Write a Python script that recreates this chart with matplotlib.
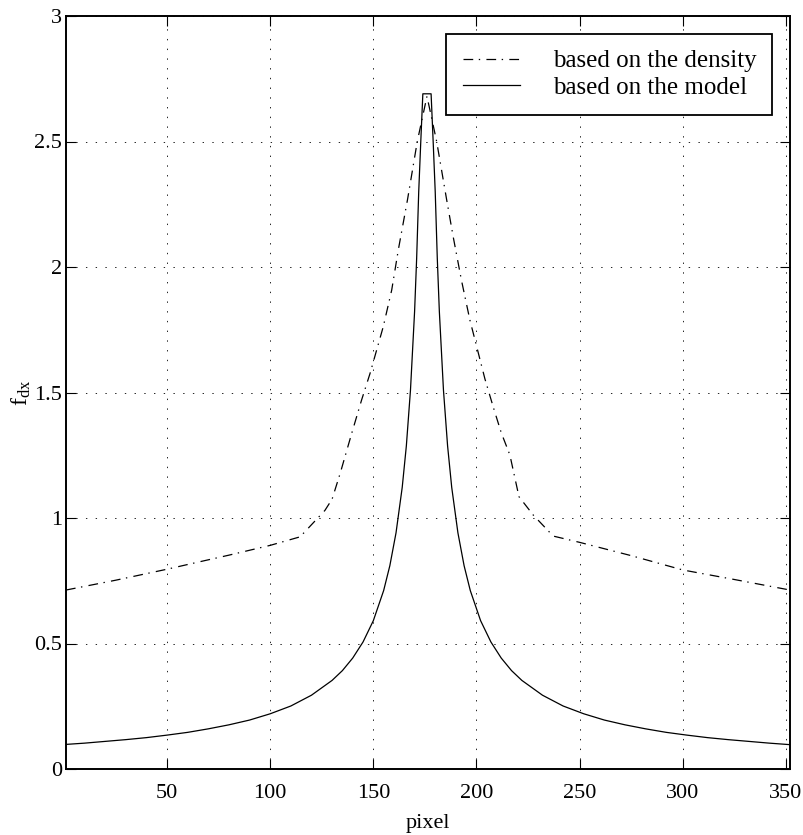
import matplotlib
matplotlib.use('Agg')
import matplotlib.pyplot as plt

plt.rcParams['font.family'] = ['Liberation Serif', 'DejaVu Serif']
plt.rcParams['mathtext.fontset'] = 'custom'
plt.rcParams['mathtext.rm'] = 'Liberation Serif'
plt.rcParams['lines.scale_dashes'] = False

# model curve
model_x = [1, 10, 20, 30, 40, 50, 60, 70, 80, 90, 100, 110, 120, 130, 135, 140,
           145, 150, 155, 158, 161, 164, 166, 168, 170, 171, 172, 173, 174, 178,
           179, 180, 181, 182, 184, 186, 188, 191, 194, 197, 202, 207, 212, 217,
           222, 232, 242, 252, 262, 272, 282, 292, 302, 312, 322, 332, 342, 352]
model_y = [0.098, 0.103, 0.110, 0.117, 0.125, 0.135, 0.146, 0.160, 0.176, 0.195,
           0.220, 0.251, 0.294, 0.353, 0.392, 0.442, 0.506, 0.591, 0.711, 0.810,
           0.941, 1.122, 1.287, 1.509, 1.823, 2.035, 2.30, 2.50, 2.69, 2.69,
           2.50, 2.30, 2.035, 1.823, 1.509, 1.287, 1.122, 0.941, 0.810, 0.711,
           0.591, 0.506, 0.442, 0.392, 0.353, 0.294, 0.251, 0.220, 0.195, 0.176,
           0.160, 0.146, 0.135, 0.125, 0.117, 0.110, 0.103, 0.097]

# density curve
dens_x = [1, 25, 50, 66, 80, 100, 114.5, 126.5, 130, 134, 139.5, 144.3, 148.4,
          151.6, 154.8, 158.9, 162.1, 166.6, 171.3, 176, 180.7, 185.5, 188.7,
          192.7, 196.8, 200.1, 204.1, 208.1, 212, 216.2, 220.6, 227.5, 237.2,
          250, 275, 300, 325, 352]
dens_y = [0.713, 0.752, 0.796, 0.826, 0.852, 0.891, 0.925, 1.03, 1.075, 1.18,
          1.337, 1.47, 1.576, 1.669, 1.762, 1.908, 2.068, 2.27, 2.5, 2.68, 2.5,
          2.27, 2.121, 1.948, 1.789, 1.683, 1.554, 1.443, 1.34, 1.251, 1.085,
          1.012, 0.928, 0.903, 0.85, 0.793, 0.755, 0.713]

xticks = [50, 100, 150, 200, 250, 300, 350]
yticks = [0, 0.5, 1, 1.5, 2, 2.5, 3]
ytick_labels = ['0', '0.5', '1', '1.5', '2', '2.5', '3']

fig = plt.figure(figsize=(8.04, 8.35), dpi=100)
ax = fig.add_axes([66 / 804, 66 / 835, 724 / 804, 753 / 835])

ax.plot(dens_x, dens_y, color='black', lw=0.9, ls=(0, (7, 4, 1, 4.5)),
        label='based on the density')
ax.plot(model_x, model_y, color='black', lw=0.9, label='based on the model')

ax.set_xlim(1, 352)
ax.set_ylim(0, 3)
ax.set_xticks(xticks)
ax.set_xticklabels([str(t) for t in xticks])
ax.set_yticks(yticks)
ax.set_yticklabels(ytick_labels)

ax.grid(True, color='black', lw=0.6, ls=(0, (1, 6)))
ax.tick_params(direction='in', length=7, width=0.8, top=True, right=True,
               labelsize=16)
ax.tick_params(axis='x', pad=11)
ax.tick_params(axis='y', pad=3)
for s in ax.spines.values():
    s.set_linewidth(1.4)

ax.set_xlabel('pixel', fontsize=16)
ax.xaxis.set_label_coords(0.5, -0.06)
ax.set_ylabel(r'$\mathregular{f_{dx}}$', fontsize=17)
ax.yaxis.set_label_coords(-0.046, 0.5)

leg = ax.legend(loc='upper right', fontsize=18, fancybox=False, framealpha=1,
                edgecolor='black', borderaxespad=0.7, borderpad=0.65,
                handlelength=2.3, handletextpad=1.3, labelspacing=0.15)
leg.get_frame().set_linewidth(1.3)

fig.savefig('out.png', dpi=100)
